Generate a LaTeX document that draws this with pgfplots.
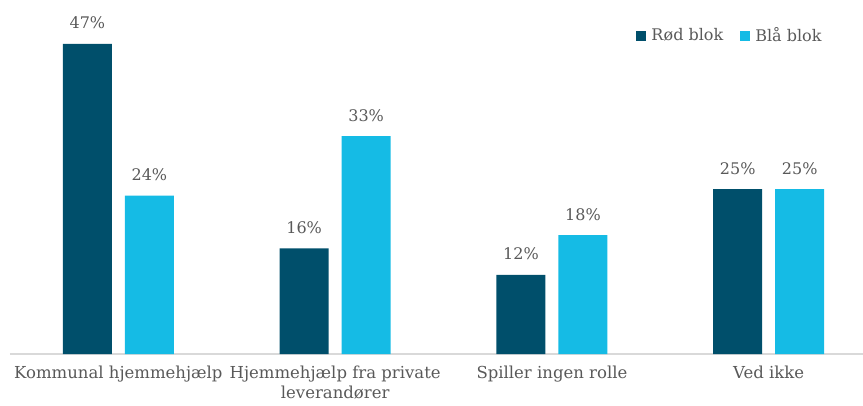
\documentclass[border=0pt]{standalone}
\usepackage{pgfplots}
\pgfplotsset{compat=1.18}
\usepackage{fontspec}
\setmainfont{DejaVu Serif}
\definecolor{rod}{RGB}{0,79,107}
\definecolor{bla}{RGB}{21,187,229}
\definecolor{txt}{RGB}{89,89,89}
\definecolor{axl}{RGB}{217,217,217}
\begin{document}
\fontsize{16.5pt}{20pt}\selectfont
\begin{tikzpicture}[x=1pt,y=1pt]
\begin{axis}[
  at={(0,0)}, anchor=south west,
  scale only axis,
  width=853pt, height=330pt,
  xmin=-0.5, xmax=3.435,
  ymin=0, ymax=50,
  ybar=13pt, bar width=49pt,
  axis y line=none,
  axis x line*=bottom,
  x axis line style={axl, line width=1.5pt, -},
  xtick={0,1,2,3},
  xticklabels={Kommunal hjemmehjælp,{Hjemmehjælp fra private\\leverandører},Spiller ingen rolle,Ved ikke},
  major tick length=0pt,
  xticklabel style={align=center, text=txt, font=\fontsize{16.5pt}{20pt}\selectfont, anchor=north, yshift=-6pt},
  clip=false,
  /pgf/number format/assume math mode=true,
  nodes near coords={\pgfmathprintnumber\pgfplotspointmeta\%},
  every node near coord/.append style={text=txt, anchor=base, yshift=15pt, font=\fontsize{16pt}{19pt}\selectfont},
  legend style={at={(rel axis cs:0.734,0.965)}, anchor=west, draw=none, fill=none, inner sep=0pt,
    legend columns=2, font=\fontsize{16pt}{19pt}\selectfont, text=txt,
    nodes={inner xsep=5pt},
    /tikz/every even column/.append style={column sep=12pt}},
  legend image code/.code={\fill[#1] (0pt,-5pt) rectangle (10pt,5pt);},
]
\addplot[fill=rod, draw=none] coordinates {(0,47) (1,16) (2,12) (3,25)};
\addplot[fill=bla, draw=none] coordinates {(0,24) (1,33) (2,18) (3,25)};
\legend{Rød blok, Blå blok}
\end{axis}
\pgfresetboundingbox
\path[use as bounding box] (-10,-51) rectangle (853,354);
\end{tikzpicture}
\end{document}
